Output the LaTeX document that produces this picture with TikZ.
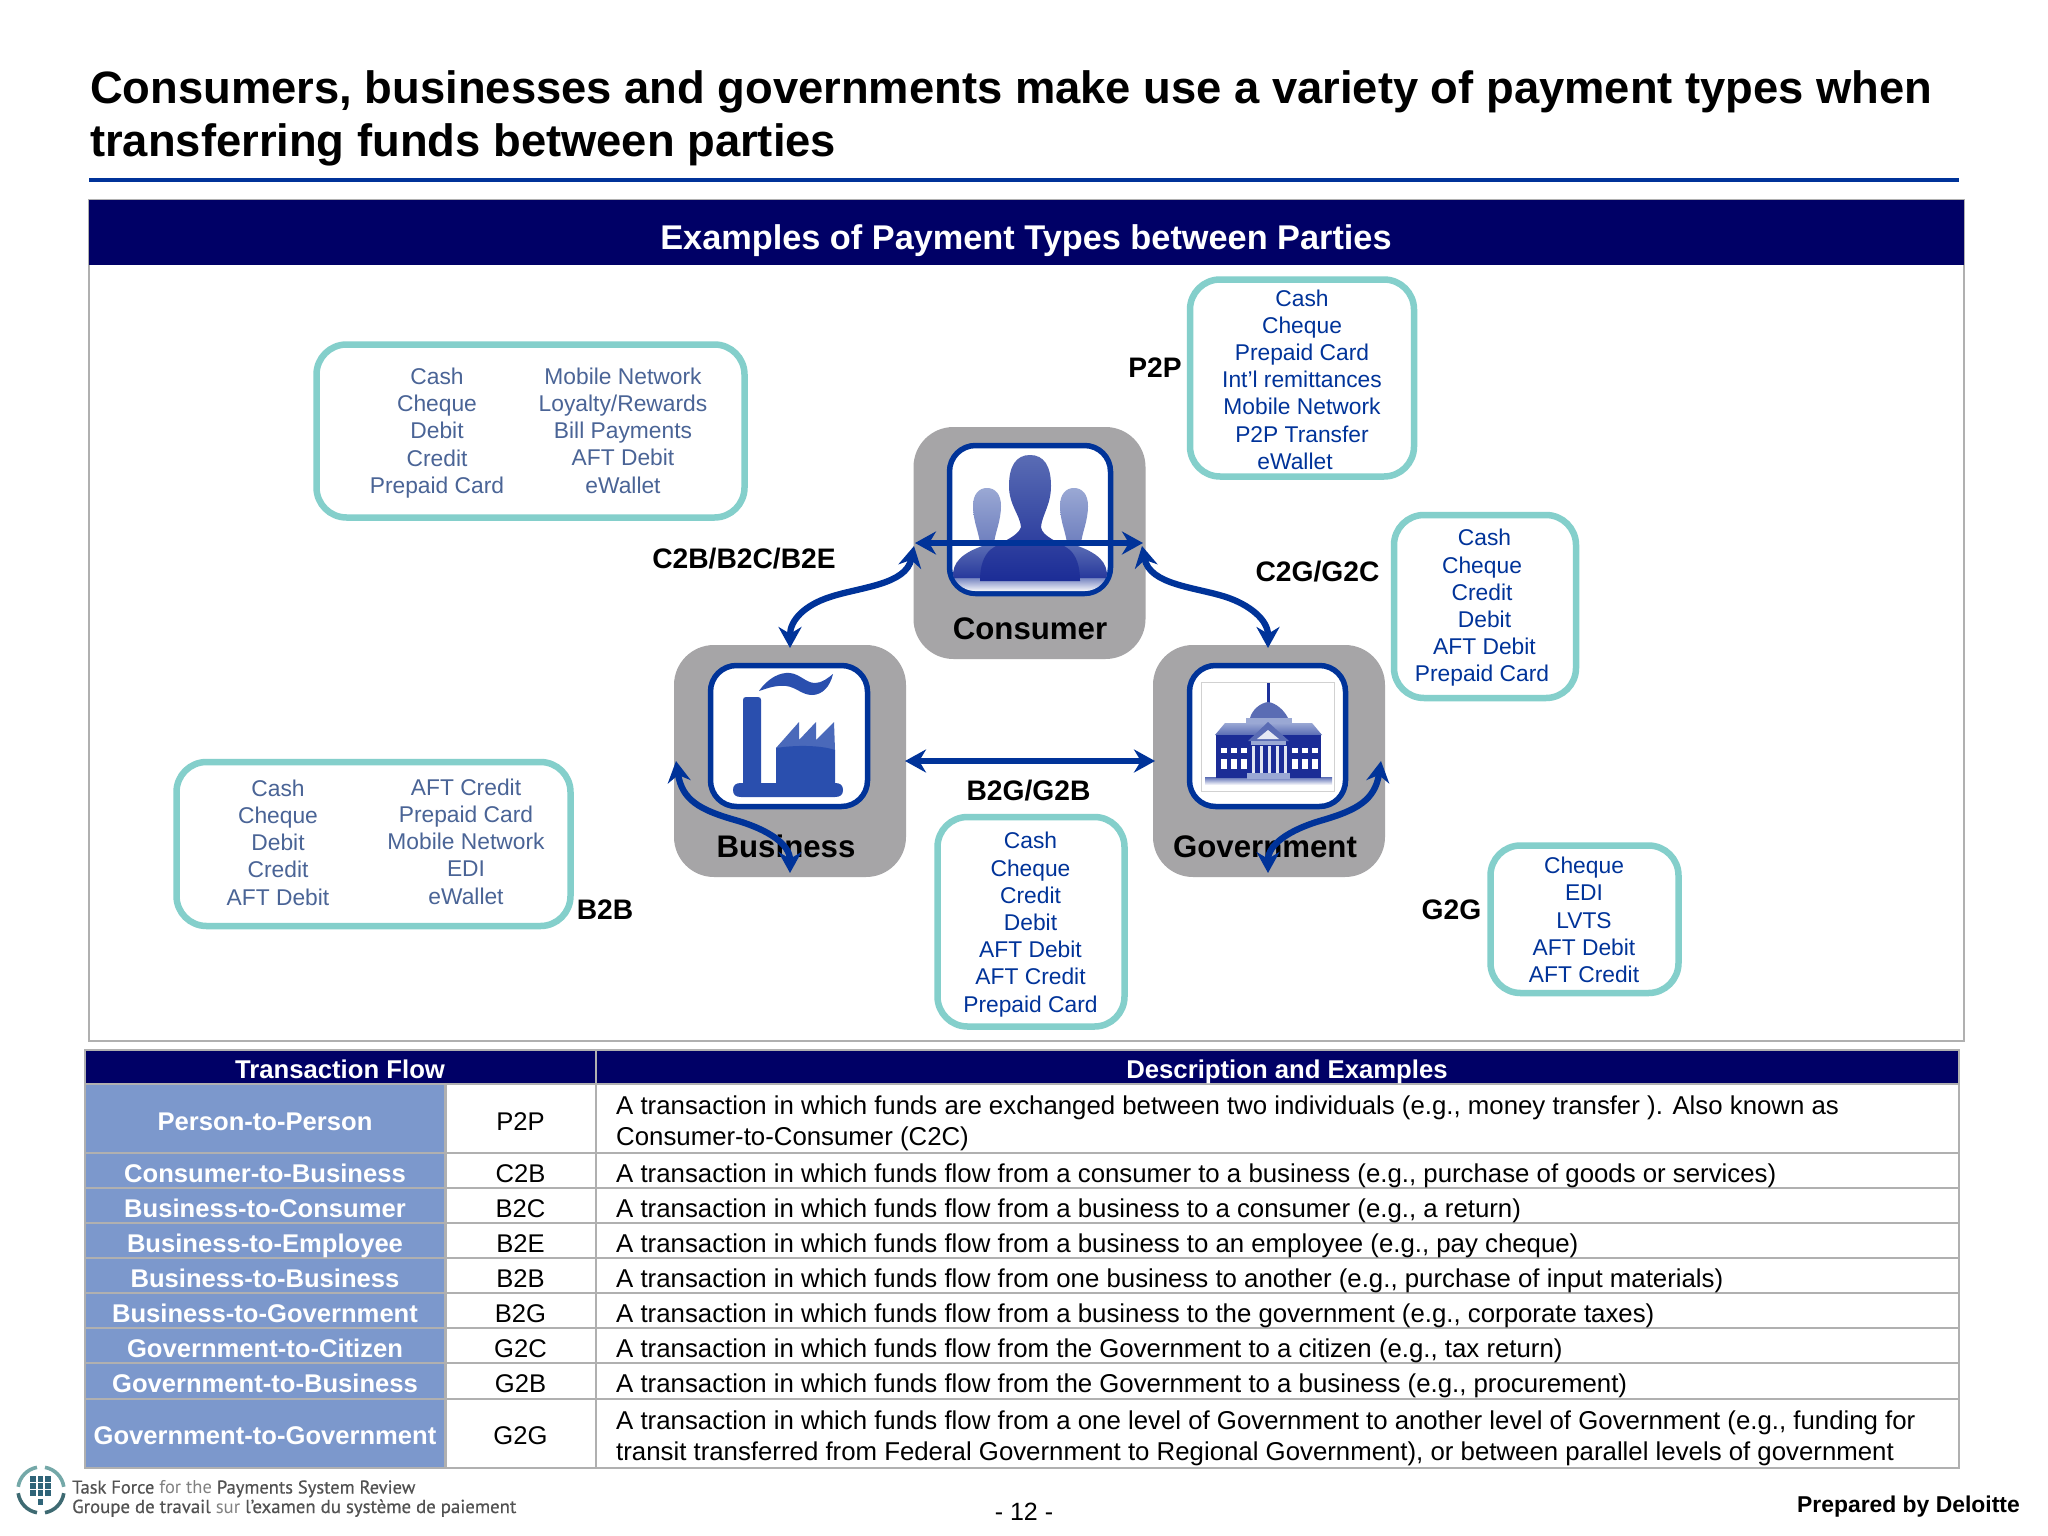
\documentclass[tikz,border=0pt]{standalone}
\usepackage{fontspec}
\setmainfont{Liberation Sans}
\newfontfamily\logofont{PT Sans}
\newfontfamily\logofontb[FakeBold=0.5]{PT Sans}
\usetikzlibrary{arrows.meta}
\definecolor{navy}{HTML}{000066}
\definecolor{ruleblue}{HTML}{003399}
\definecolor{teal}{HTML}{84CFCB}
\definecolor{tblue}{HTML}{7C98CC}
\definecolor{gline}{HTML}{B0B0B0}
\definecolor{greybox}{HTML}{A6A5A7}
\definecolor{listblue}{HTML}{003399}
\definecolor{liteblue}{HTML}{4A6496}
\definecolor{iconblue}{HTML}{2A4FAE}
\definecolor{figdark}{HTML}{1B2C96}
\definecolor{figmid}{HTML}{5A6CB4}
\definecolor{figlite}{HTML}{9AA8D4}
\definecolor{logod}{HTML}{3E6A72}
\definecolor{logol}{HTML}{74A8A8}
\definecolor{logog}{HTML}{2F6478}
\newcommand{\fs}[1]{\fontsize{#1}{#1}\selectfont}
\tikzset{
 x=1pt,y=-1pt,
 tealbox/.style={draw=teal,line width=6.5pt,rounded corners=30pt,fill=white},
 listtxt/.style={align=center,text=listblue,inner sep=0,font=\fontsize{22.8}{27.2}\selectfont},
 listlite/.style={align=center,text=liteblue,inner sep=0,font=\fontsize{22.8}{27.2}\selectfont},
 blab/.style={font=\bfseries\fs{28.2},inner sep=0},
 party/.style={fill=greybox,rounded corners=40pt,minimum width=232pt,minimum height=232pt,inner sep=0},
 iconbox/.style={draw=ruleblue,line width=5.5pt,fill=white,rounded corners=26pt,inner sep=0},
 plab/.style={font=\bfseries\fs{31.2},inner sep=0},
 flow/.style={draw=ruleblue,line width=6.3pt,{Stealth[length=21pt,width=23pt]}-{Stealth[length=21pt,width=23pt]}},
 rowname/.style={font=\bfseries\fs{25.6},text=white,inner sep=0,anchor=base},
 rowcode/.style={font=\fs{25.6},inner sep=0,anchor=base},
 rowdesc/.style={font=\fs{25.8},inner sep=0,anchor=base west},
 thead/.style={font=\bfseries\fs{25.7},text=white,inner sep=0,anchor=base},
 logoline/.style={anchor=base west,inner sep=0,text=black!68,font=\logofontb\fs{18.8}},
 logoarcd/.style={draw=logod,line width=3.6pt},
 logoarcl/.style={draw=logol,line width=3.6pt},
}
\begin{document}
\begin{tikzpicture}
\useasboundingbox (0,0) rectangle (2048,1536);
\fill[white] (0,0) rectangle (2048,1536);
% title
\node[anchor=base west,inner sep=0,font=\bfseries\fs{45.35}] (t1) at (90,104) {Consumers, businesses and governments make use a variety of payment types when};
\node[anchor=base west,inner sep=0,font=\bfseries\fs{45.35}] (t2) at (90,157) {transferring funds between parties};
\fill[ruleblue] (89,177.5) rectangle (1959,182);
% panel
\draw[gline,line width=2pt] (89,200) rectangle (1964,1041);
\fill[navy] (89,200) rectangle (1964,265);
\node[text=white,font=\bfseries\fs{34.3},inner sep=0,anchor=base] (hd) at (1026,249) {Examples of Payment Types between Parties};
% teal lists
\draw[tealbox] (316.5,344.5) rectangle (744.5,517.5);
\node[listlite] (l1a) at (437,433) {Cash\\Cheque\\Debit\\Credit\\Prepaid Card};
\node[listlite] (l1b) at (623,430.5) {Mobile Network\\Loyalty/Rewards\\Bill Payments\\AFT Debit\\eWallet};
\draw[tealbox] (1190,279.5) rectangle (1414,476.5);
\node[listtxt] (l2) at (1302,379.5) {Cash\\Cheque\\Prepaid Card\\Int’l remittances\\Mobile Network\\P2P Transfer\\eWallet\hspace*{14pt}};
\draw[tealbox] (1394,515) rectangle (1576,698);
\node[listtxt] (l3) at (1482,608) {\hspace*{5pt}Cash\\Cheque\\Credit\\\hspace*{5pt}Debit\\\hspace*{5pt}AFT Debit\\Prepaid Card};
\draw[tealbox] (176.5,762) rectangle (570.5,926);
\node[listlite] (l4a) at (278,842.5) {Cash\\Cheque\\Debit\\Credit\\AFT Debit};
\node[listlite] (l4b) at (466,841.5) {AFT Credit\\Prepaid Card\\Mobile Network\\EDI\\eWallet};
\draw[tealbox] (937.5,817) rectangle (1124.5,1026.5);
\node[listtxt] (l5) at (1030.5,924.5) {Cash\\Cheque\\Credit\\Debit\\AFT Debit\hspace*{5pt}\\AFT Credit\\Prepaid Card};
\draw[tealbox] (1490.5,845.5) rectangle (1678.5,993);
\node[listtxt] (l6) at (1584,920) {Cheque\\EDI\\LVTS\\AFT Debit\\AFT Credit};
% labels
\node[blab] (p2p) at (1155,368) {P2P};
\node[blab] (c2b) at (744,559) {C2B/B2C/B2E};
\node[blab] (c2g) at (1317.5,572) {C2G/G2C};
\node[blab] (b2g) at (1028.5,790.5) {B2G/G2B};
\node[blab] (b2b) at (605,910) {B2B};
\node[blab] (g2g) at (1451.5,910) {G2G};
% party boxes
\node[party] (consumer) at (1029.5,543) {};
\node[party] (business) at (790,761) {};
\node[party] (government) at (1269,761) {};
\node[plab] (clab) at (1030,629) {Consumer};
\node[plab] (blab1) at (786,846.5) {Business};
\node[plab] (glab) at (1265,846.5) {Government};
% consumer icon
\draw[iconbox] (949.5,445.5) rectangle (1110.5,593.5);
\begin{scope}
\clip[rounded corners=23pt] (952,448) rectangle (1108,591);
\shade[top color=figmid,bottom color=white] (950,575) rectangle (1110,592);
\foreach \cx in {987,1074}{
 \shade[top color=figlite,bottom color=figmid!70!figlite] (\cx-7,545) .. controls (\cx-7,535) and (\cx-14,522) .. (\cx-14,506) .. controls (\cx-14,494) and (\cx-8,488) .. (\cx,488) .. controls (\cx+8,488) and (\cx+14,494) .. (\cx+14,506) .. controls (\cx+14,522) and (\cx+7,535) .. (\cx+7,545) -- cycle;}
\shade[top color=figmid,bottom color=figdark!80!figmid] (953,578) .. controls (952,562) and (962,553) .. (985,545) -- (1075,545) .. controls (1098,553) and (1108,562) .. (1107,578) -- cycle;
\shade[top color=figmid,middle color=figdark!70!figmid,bottom color=figdark] (1030,455) .. controls (1016,455) and (1009,466) .. (1009,486) .. controls (1009,505) and (1020,515) .. (1021,527) .. controls (1018,537) and (1000,542) .. (990,550) .. controls (984,556) and (980,565) .. (980,581) -- (1080,581) .. controls (1080,565) and (1076,556) .. (1070,550) .. controls (1060,542) and (1042,537) .. (1041,527) .. controls (1042,515) and (1051,505) .. (1051,486) .. controls (1051,466) and (1044,455) .. (1030,455) -- cycle;
\end{scope}
% business icon
\draw[iconbox] (710.5,665.5) rectangle (867.5,806.5);
\fill[iconblue] (743,700) .. controls (743,698) and (744,697) .. (746,697) -- (758,697) .. controls (760,697) and (761,698) .. (761,700) -- (761,784) -- (743,784) -- cycle;
\fill[iconblue!85] (776,748) -- (799,722) -- (799,740) -- (816,722) -- (816,740) -- (834,722) -- (835,750) -- cycle;
\fill[iconblue] (776,748) .. controls (795,745) and (820,745) .. (835,750) -- (835,784) -- (776,784) -- cycle;
\fill[iconblue] (733,790) .. controls (733,785) and (736,783) .. (741,783) -- (835,783) .. controls (840,783) and (843,785) .. (843,790) .. controls (843,795) and (840,797) .. (835,797) -- (741,797) .. controls (736,797) and (733,795) .. (733,790) -- cycle;
\fill[iconblue] (759,691) .. controls (768,678) and (780,672) .. (790,673) .. controls (800,674) and (806,683) .. (815,683) .. controls (822,683) and (828,678) .. (833,674) .. controls (830,687) and (822,695) .. (812,695) .. controls (802,695) and (796,687) .. (786,686) .. controls (776,685) and (768,688) .. (759,691) -- cycle;
% government icon
\draw[iconbox] (1189.5,665.5) rectangle (1345.5,806.5);
\draw[black!18,line width=.9pt] (1201,682) rectangle (1334,791);
\shade[top color=figmid,bottom color=white] (1205,777) rectangle (1332,785);
\fill[figdark!85!iconblue] (1267,683) rectangle (1269.5,703);
\fill[figmid] (1250,718) .. controls (1252,710) and (1260,703) .. (1268,702) .. controls (1276,703) and (1284,710) .. (1288,718) -- cycle;
\fill[figlite] (1246,718) rectangle (1292,726);
\shade[top color=figlite,bottom color=figmid] (1215,735) -- (1225,723) -- (1312,723) -- (1322,735) -- cycle;
\fill[figdark] (1216,735) rectangle (1321,778);
\fill[figmid] (1268,722) -- (1289,741) -- (1248,741) -- cycle;
\fill[white!75!figlite] (1268,730) -- (1279,739) -- (1257,739) -- cycle;
\fill[figlite] (1251,741) rectangle (1286,745);
\foreach \wx in {1221,1231,1241,1292,1302,1312}{
 \fill[white] (\wx,748) rectangle (\wx+5.5,753);
 \fill[white] (\wx,759) rectangle (\wx+5.5,769);}
\foreach \wx in {1253,1261,1269,1277,1285}{\fill[white!70!figlite] (\wx-1,746) rectangle (\wx+1.5,773);}
\fill[figlite] (1247,773) rectangle (1290,779);
% connectors
\coordinate (ca) at (915,543);
\coordinate (cb) at (1143,543);
\coordinate (caa) at (914,546);
\coordinate (cbb) at (1142,546);
\coordinate (bt) at (790,648);
\coordinate (gt) at (1268,648);
\coordinate (br) at (905,761);
\coordinate (gl) at (1155,761);
\coordinate (bl) at (676,761);
\coordinate (bb) at (790,873);
\coordinate (grr) at (1381,761);
\coordinate (gb) at (1268,873);
\draw[flow] (ca) -- (cb);
\draw[flow] (br) -- (gl);
\draw[flow] (bt) .. controls (790,620) and (805,605) .. (830,597) .. controls (860,587) and (906,585) .. (caa);
\draw[flow] (cbb) .. controls (1150,585) and (1195,587) .. (1226,597) .. controls (1250,605) and (1268,620) .. (gt);
\draw[flow] (bl) .. controls (682,800) and (700,810) .. (735,820) .. controls (770,830) and (790,845) .. (bb);
\draw[flow] (grr) .. controls (1375,800) and (1357,810) .. (1323,820) .. controls (1288,830) and (1268,845) .. (gb);
% table
\fill[navy] (85,1050) rectangle (1959,1084);
\fill[tblue] (85,1084) rectangle (445.5,1467);
\foreach \ya in {1084,1153,1188,1223,1258,1293,1328,1363,1399,1468}{\draw[gline,line width=2.5pt] (85,\ya) -- (1959,\ya);}
\draw[gline,line width=2.5pt] (85,1050) rectangle (1959,1468);
\draw[gline,line width=2.5pt] (445.5,1084) -- (445.5,1468);
\draw[gline,line width=2.5pt] (596,1050) -- (596,1468);
\node[thead] (th1) at (340,1078) {Transaction Flow};
\node[thead] (th2) at (1287,1078) {Description and Examples};
\node[rowname] (n1) at (265,1130) {Person-to-Person};
\node[rowname] (n2) at (265,1182.5) {Consumer-to-Business};
\node[rowname] (n3) at (265,1217.5) {Business-to-Consumer};
\node[rowname] (n4) at (265,1252.5) {Business-to-Employee};
\node[rowname] (n5) at (265,1287) {Business-to-Business};
\node[rowname] (n6) at (265,1322) {Business-to-Government};
\node[rowname] (n7) at (265,1357) {Government-to-Citizen};
\node[rowname] (n8) at (265,1392) {Government-to-Business};
\node[rowname] (n9) at (265,1444) {Government-to-Government};
\node[rowcode] (c1) at (520.5,1130) {P2P};
\node[rowcode] (c2) at (520.5,1182.5) {C2B};
\node[rowcode] (c3) at (520.5,1217.5) {B2C};
\node[rowcode] (c4) at (520.5,1252.5) {B2E};
\node[rowcode] (c5) at (520.5,1287) {B2B};
\node[rowcode] (c6) at (520.5,1322) {B2G};
\node[rowcode] (c7) at (520.5,1357) {G2C};
\node[rowcode] (c8) at (520.5,1392) {G2B};
\node[rowcode] (c9) at (520.5,1444) {G2G};
\node[rowdesc] (d1a) at (616,1114.5) {A transaction in which funds are exchanged between two individuals (e.g., money transfer ). Also known as};
\node[rowdesc] (d1b) at (616,1145.5) {Consumer-to-Consumer (C2C)};
\node[rowdesc] (d2) at (616,1182.5) {A transaction in which funds flow from a consumer to a business (e.g., purchase of goods or services)};
\node[rowdesc] (d3) at (616,1217.5) {A transaction in which funds flow from a business to a consumer (e.g., a return)};
\node[rowdesc] (d4) at (616,1252.5) {A transaction in which funds flow from a business to an employee (e.g., pay cheque)};
\node[rowdesc] (d5) at (616,1287) {A transaction in which funds flow from one business to another (e.g., purchase of input materials)};
\node[rowdesc] (d6) at (616,1322) {A transaction in which funds flow from a business to the government (e.g., corporate taxes)};
\node[rowdesc] (d7) at (616,1357) {A transaction in which funds flow from the Government to a citizen (e.g., tax return)};
\node[rowdesc] (d8) at (616,1392) {A transaction in which funds flow from the Government to a business (e.g., procurement)};
\node[rowdesc] (d9a) at (616,1429) {A transaction in which funds flow from a one level of Government to another level of Government (e.g., funding for};
\node[rowdesc] (d9b) at (616,1460) {transit transferred from Federal Government to Regional Government), or between parallel levels of government};
% logo
\draw[logoarcd] (41,1490) ++(100:23) arc (100:172:23);
\draw[logoarcd] (41,1490) ++(80:23) arc (80:8:23);
\draw[logoarcl] (41,1490) ++(-172:23) arc (-172:-100:23);
\draw[logoarcl] (41,1490) ++(-8:23) arc (-8:-80:23);
\foreach \lx in {33,40.5,48}{\foreach \ly in {1479,1486,1493}{\fill[logog] (\lx-2.8,\ly-2.8) rectangle (\lx+2.8,\ly+2.8);}}
\fill[logog] (37.7,1499) rectangle (43.3,1504.6);
\node[logoline,font=\logofontb\fs{18.5}] (lg1) at (72,1493.5) {Task Force {\logofont\color{black!50}for the} Payments System Review};
\node[logoline] (lg2) at (72,1513) {Groupe de travail {\logofont\color{black!50}sur} l’examen du système de paiement};
% footer
\node[inner sep=0,font=\fs{25}] (pg) at (1024,1512) {- 12 -};
\node[anchor=east,inner sep=0,font=\bfseries\fs{22.9}] (dl) at (2020,1507) {Prepared by Deloitte};
\end{tikzpicture}
\end{document}
